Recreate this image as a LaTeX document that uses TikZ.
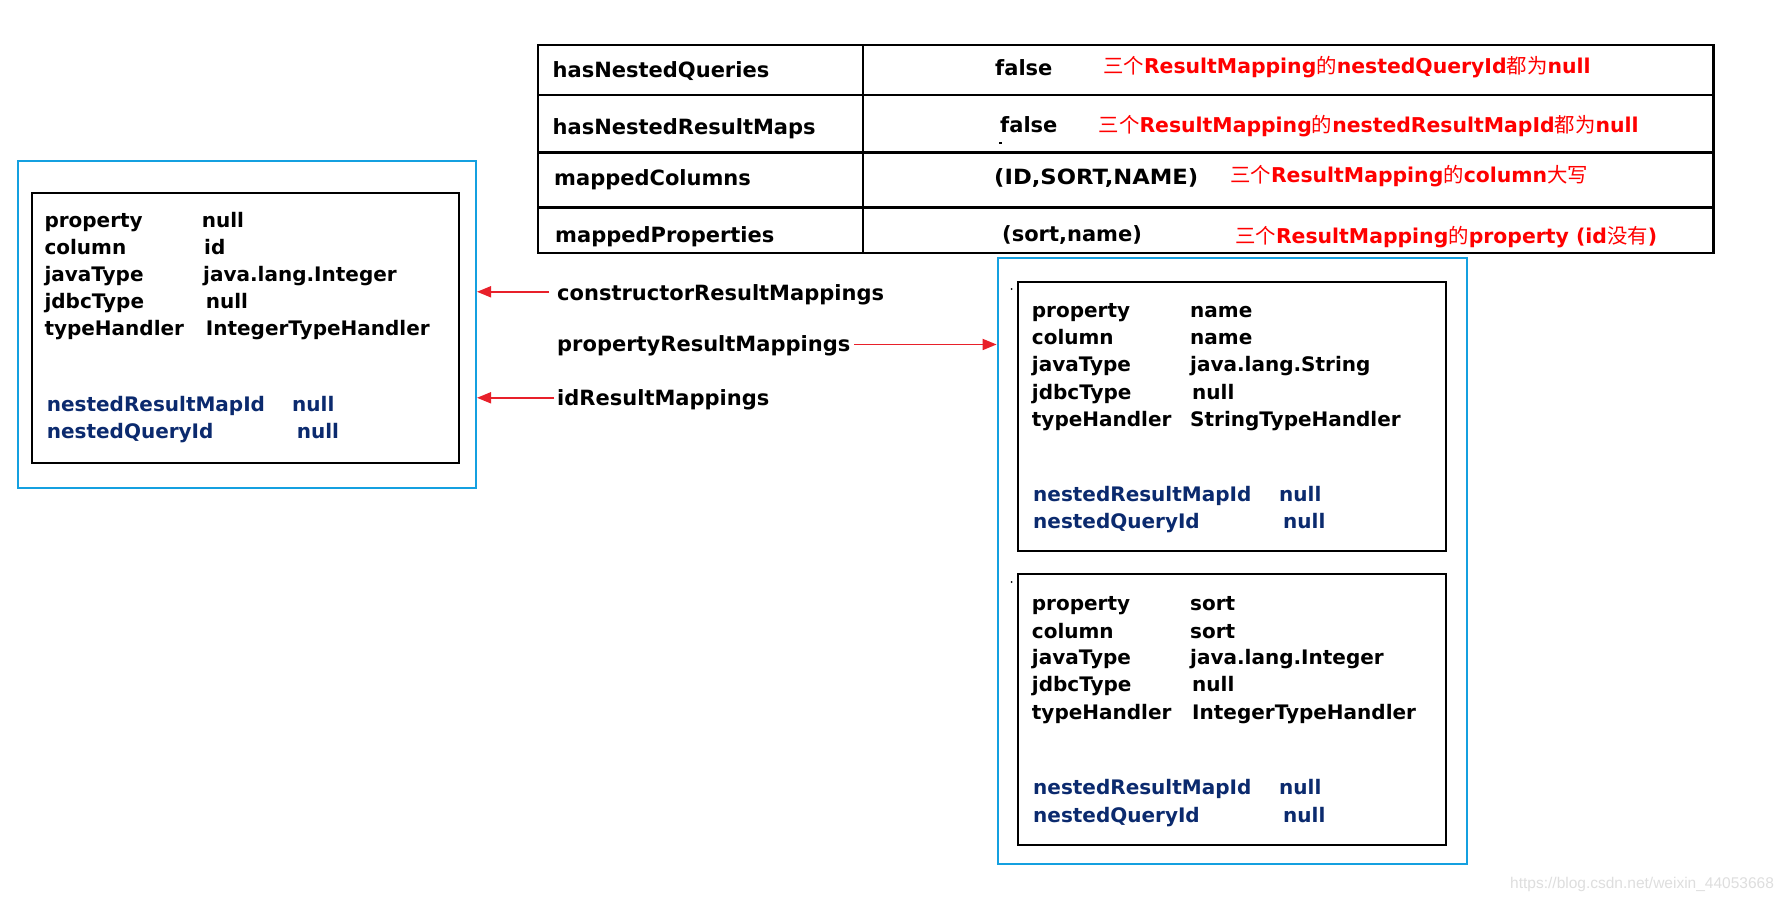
\documentclass[tikz,border=0pt]{standalone}
\usepackage{fontspec}
\usepackage{graphicx}
\setmainfont{DejaVu Sans}
\newfontfamily\cjkfont{Noto Sans CJK SC}
\newfontfamily\wmfont{Liberation Sans}
\usetikzlibrary{arrows.meta}
\definecolor{mynavy}{HTML}{0B2A6E}
\definecolor{boxblue}{HTML}{14A0E0}
\definecolor{arrred}{HTML}{E8202A}
\definecolor{redtext}{HTML}{FF0000}
\newcommand\cjkt[1]{{\cjkfont\mdseries #1}}
\begin{document}
\begin{tikzpicture}[x=1pt,y=-1pt,
  txt/.style={anchor=base west, inner sep=0pt, font=\fontsize{20}{24}\selectfont\bfseries},
  bigtxt/.style={txt, font=\fontsize{21}{25}\selectfont\bfseries},
  navtxt/.style={txt, text=mynavy},
  redtxt/.style={txt, text=redtext, font=\fontsize{20.4}{24}\selectfont\bfseries},
  bluebox/.style={draw=boxblue, line width=2pt, anchor=north west, inner sep=0pt},
  blackbox/.style={draw=black, line width=2pt, anchor=north west, inner sep=0pt},
  tabline/.style={draw=black, line width=2.4pt},
  arr/.style={draw=arrred, line width=1.8pt, -{Triangle[length=14pt,width=11pt]}},
  speck/.style={fill=black, inner sep=0pt, minimum size=2pt, circle}
]
\useasboundingbox (0,0) rectangle (1790,902);
\fill[white] (0,0) rectangle (1790,902);

% ---------- table ----------
\draw[tabline] (538,45) rectangle (1713.5,253);
\draw[tabline] (863,45) -- (863,253);
\foreach \yy in {95,152.3,207.3} \draw[tabline] (538,\yy) -- (1713.5,\yy);

\node[bigtxt] (tA1) at (552.5,77.3) {hasNestedQueries};
\node[bigtxt] (tA2) at (552.5,134.3) {hasNestedResultMaps};
\node[bigtxt] (tA3) at (554,185.7) {mappedColumns};
\node[bigtxt] (tA4) at (555,242.5) {mappedProperties};

\node[bigtxt] (tB1) at (995,75.7) {false};
\node[bigtxt] (tB2) at (1000,132.3) {false};
\node[bigtxt] (tB3) at (994,184) {\scalebox{1.08}[1]{(ID,SORT,NAME)}};
\node[bigtxt] (tB4) at (1002,241.5) {(sort,name)};

\node[redtxt] (tC1) at (1103,73.3) {\cjkt{三个}ResultMapping\cjkt{的}nestedQueryId\cjkt{都为}null};
\node[redtxt] (tC2) at (1098.5,132.3) {\cjkt{三个}ResultMapping\cjkt{的}nestedResultMapId\cjkt{都为}null};
\node[redtxt] (tC3) at (1230,182.3) {\cjkt{三个}ResultMapping\cjkt{的}column\cjkt{大写}};
\node[redtxt] (tC4) at (1235,243.5) {\cjkt{三个}ResultMapping\cjkt{的}property (id\cjkt{没有})};
\fill (999,142) rectangle (1002,143.5);

% ---------- left box ----------
\node[bluebox, minimum width=458.3pt, minimum height=326.7pt] (lblue) at (16.7,160) {};
\node[blackbox, minimum width=427.6pt, minimum height=270pt] (lblack) at (30.7,191.7) {};
\foreach \lab/\val/\yy/\vx [count=\i] in {property/null/227.3/201.7, column/id/254.5/204, javaType/java.lang.Integer/281.5/203, jdbcType/null/308.3/205.7, typeHandler/IntegerTypeHandler/335/205.7}{
  \node[txt] (La\i) at (44.3,\yy) {\lab};
  \node[txt] (Lb\i) at (\vx,\yy) {\val};
}
\node[navtxt] (Ln1) at (46.7,411.7) {nestedResultMapId};
\node[navtxt] (Lv1) at (292,411.7) {null};
\node[navtxt] (Ln2) at (46.7,438.3) {nestedQueryId};
\node[navtxt] (Lv2) at (296.7,438.3) {null};

% ---------- right box ----------
\node[bluebox, minimum width=469.2pt, minimum height=606.1pt] (rblue) at (996.6,256.9) {};
\node[blackbox, minimum width=428pt, minimum height=269.5pt] (rbox1) at (1017,280.8) {};
\node[blackbox, minimum width=428pt, minimum height=270.6pt] (rbox2) at (1017,573) {};
\node[speck] (dot1) at (1011.5,289) {};
\node[speck] (dot2) at (1011.5,582) {};

\foreach \lab/\val/\yy/\vx [count=\i] in {property/name/317/1190, column/name/344.5/1190, javaType/java.lang.String/371.5/1190, jdbcType/null/399/1192, typeHandler/StringTypeHandler/426.5/1190}{
  \node[txt] (Ra\i) at (1031.7,\yy) {\lab};
  \node[txt] (Rb\i) at (\vx,\yy) {\val};
}
\node[navtxt] (Rn1) at (1033,501) {nestedResultMapId};
\node[navtxt] (Rv1) at (1279,501) {null};
\node[navtxt] (Rn2) at (1033,528.5) {nestedQueryId};
\node[navtxt] (Rv2) at (1283,528.5) {null};

\foreach \lab/\val/\yy/\vx [count=\i] in {property/sort/610.8/1190, column/sort/638/1190, javaType/java.lang.Integer/664.4/1190, jdbcType/null/691.8/1192, typeHandler/IntegerTypeHandler/719/1192}{
  \node[txt] (Sa\i) at (1031.7,\yy) {\lab};
  \node[txt] (Sb\i) at (\vx,\yy) {\val};
}
\node[navtxt] (Sn1) at (1033,794.5) {nestedResultMapId};
\node[navtxt] (Sv1) at (1279,794.5) {null};
\node[navtxt] (Sn2) at (1033,822) {nestedQueryId};
\node[navtxt] (Sv2) at (1283,822) {null};

% ---------- middle labels and arrows ----------
\node[bigtxt] (mc) at (557,300) {constructorResultMappings};
\node[bigtxt] (mp) at (557,351.7) {propertyResultMappings};
\node[bigtxt] (mi) at (557,405) {idResultMappings};

\coordinate (mcs) at ([xshift=-8pt,yshift=2.5pt]mc.west);
\draw[arr] (mcs) -- (mcs -| lblue.east);
\coordinate (mps) at ([xshift=4pt,yshift=1.5pt]mp.east);
\draw[arr] (mps) -- (mps -| rblue.west);
\coordinate (mis) at ([xshift=-3pt,yshift=1.5pt]mi.west);
\draw[arr] (mis) -- (mis -| lblue.east);

% ---------- watermark ----------
\node[anchor=base west, inner sep=0pt, text=black!13, font=\wmfont\fontsize{15.5}{18}\selectfont] (wm) at (1510,888) {https://blog.csdn.net/weixin\_44053668};
\end{tikzpicture}
\end{document}
